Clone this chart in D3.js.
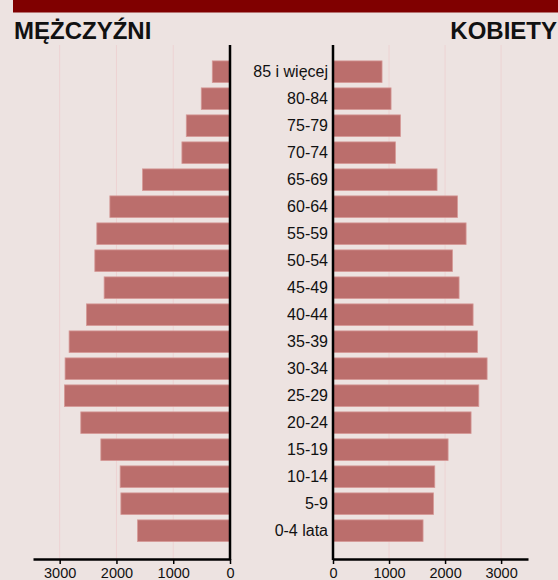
<!DOCTYPE html>
<html>
<head>
<meta charset="utf-8">
<script src="https://cdn.jsdelivr.net/npm/d3@7"></script>
<style>
  body { margin: 0; background: #ede3e1; }
  svg { display: block; font-family: "Liberation Sans", Arial, sans-serif; }
</style>
</head>
<body>
<svg id="chart" width="558" height="580"></svg>
<script>
const ageGroups = ["85 i więcej", "80-84", "75-79", "70-74", "65-69", "60-64", "55-59", "50-54", "45-49",
    "40-44", "35-39", "30-34", "25-29", "20-24", "15-19", "10-14", "5-9", "0-4 lata"];
const men = [312, 506, 770, 847, 1540, 2116, 2346, 2381, 2217, 2528, 2834, 2905, 2916, 2628, 2275, 1935, 1922, 1628];
const women = [875, 1036, 1203, 1114, 1857, 2221, 2375, 2132, 2250, 2500, 2578, 2750, 2602, 2464, 2054, 1816, 1793, 1607];
const ticks = [0, 1000, 2000, 3000];

const svg = d3.select('#chart');
const barColor = '#bb6e6c',
    gridColor = '#edd3d3',
    axisTop = 45,
    axisBottom = 559;

const xLeft = d3.scaleLinear().domain([0, 3470]).range([230, 33]);
const xRight = d3.scaleLinear().domain([0, 3480]).range([333, 528]);
const y = d3.scaleBand().domain(ageGroups).range([58.2, 544.2]).paddingInner(0.2).paddingOuter(0.1);

// belka u góry
svg.append('rect').attr('x', 13).attr('y', 0).attr('width', 545).attr('height', 12.5).attr('fill', '#800000');

svg.append('text').text('MĘŻCZYŹNI')
    .attr('x', 14).attr('y', 38.5)
    .attr('font-size', 24).attr('font-weight', 'bold').attr('fill', '#111');
svg.append('text').text('KOBIETY')
    .attr('x', 557).attr('y', 38.5).attr('text-anchor', 'end')
    .attr('font-size', 24).attr('font-weight', 'bold').attr('fill', '#111');

// siatka
[xLeft, xRight].forEach(sc => {
    svg.append('g').selectAll('line')
        .data(ticks.filter(t => t > 0))
        .enter().append('line')
        .attr('x1', d => sc(d)).attr('x2', d => sc(d))
        .attr('y1', axisTop).attr('y2', axisBottom)
        .attr('stroke', gridColor).attr('stroke-width', 1);
});

// słupki
svg.append('g').selectAll('rect')
    .data(men)
    .enter().append('rect')
    .attr('x', d => xLeft(d))
    .attr('y', (d, i) => y(ageGroups[i]))
    .attr('width', d => xLeft(0) - xLeft(d))
    .attr('height', y.bandwidth())
    .attr('fill', barColor)
    .attr('stroke', '#d59896').attr('stroke-width', 0.8);

svg.append('g').selectAll('rect')
    .data(women)
    .enter().append('rect')
    .attr('x', xRight(0))
    .attr('y', (d, i) => y(ageGroups[i]))
    .attr('width', d => xRight(d) - xRight(0))
    .attr('height', y.bandwidth())
    .attr('fill', barColor)
    .attr('stroke', '#d59896').attr('stroke-width', 0.8);

// etykiety wieku
svg.append('g').selectAll('text')
    .data(ageGroups)
    .enter().append('text')
    .text(d => d)
    .attr('x', 328)
    .attr('y', d => y(d) + y.bandwidth() / 2 + 5.6)
    .attr('text-anchor', 'end')
    .attr('font-size', 16)
    .attr('fill', '#111');

// osie
const fmt = d3.format('d');
const axisL = svg.append('g')
    .attr('transform', `translate(0,${axisBottom})`)
    .call(d3.axisBottom(xLeft).tickValues(ticks).tickFormat(fmt).tickSize(5).tickSizeOuter(0).tickPadding(4));
const axisR = svg.append('g')
    .attr('transform', `translate(0,${axisBottom})`)
    .call(d3.axisBottom(xRight).tickValues(ticks).tickFormat(fmt).tickSize(5).tickSizeOuter(0).tickPadding(4));
[axisL, axisR].forEach(a => {
    a.select('.domain').attr('stroke', '#000').attr('stroke-width', 2.5);
    a.selectAll('.tick line').attr('stroke', '#000').attr('stroke-width', 1.5);
    a.selectAll('.tick text').attr('font-size', 14.5).attr('fill', '#111')
        .attr('font-family', '"Liberation Sans", Arial, sans-serif');
});

[xLeft(0), xRight(0)].forEach(x => {
    svg.append('line')
        .attr('x1', x).attr('x2', x)
        .attr('y1', axisTop).attr('y2', axisBottom + 1)
        .attr('stroke', '#000').attr('stroke-width', 2.5);
});
</script>
</body>
</html>
